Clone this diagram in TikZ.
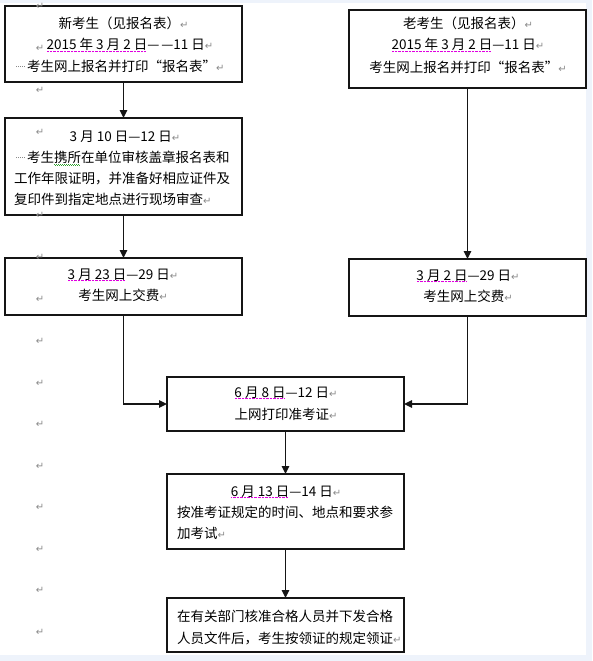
\documentclass[tikz,border=0pt]{standalone}
\usepackage{fontspec}
\usetikzlibrary{arrows.meta}
\newfontfamily\cjk{Noto Sans CJK SC}
\newfontfamily\djv{DejaVu Sans}
\definecolor{bgblue}{HTML}{EEF3FB}
\definecolor{retgray}{HTML}{8A8A8A}
\definecolor{ulmag}{HTML}{E000E0}
\definecolor{ulgreen}{HTML}{30A030}
\definecolor{linecol}{HTML}{151515}
\newsavebox\ulbox
\newcommand\retm{{\djv\fontsize{10}{10}\selectfont\textcolor{retgray}{↵}}}
\newcommand\dul[1]{\sbox\ulbox{#1}\rlap{\raisebox{-2pt}{\textcolor{ulmag}{\leaders\hbox to 1.4pt{\hss\rule{0.7pt}{0.7pt}\hss}\hskip\wd\ulbox}}}\usebox\ulbox}
\newcommand\wul[1]{\sbox\ulbox{#1}\rlap{\raisebox{-2.5pt}{\textcolor{ulgreen}{\leaders\hbox to 2pt{\rule[0pt]{1pt}{0.6pt}\rule[-0.7pt]{1pt}{0.6pt}}\hskip\wd\ulbox}}}\usebox\ulbox}
\newcommand\spm{\textcolor{retgray}{\raisebox{4pt}{\leaders\hbox to 2pt{\hss\rule{0.7pt}{0.7pt}\hss}\hskip 10pt}}\hskip 2pt}
\begin{document}
\begin{tikzpicture}[x=1pt,y=-1pt,
  box/.style={draw=linecol, line width=1.6pt, fill=white, rectangle, inner sep=0pt, outer sep=0pt, anchor=north west, minimum width=237pt},
  txt/.style={font=\cjk\fontsize{13.5}{16}\selectfont, inner sep=0pt, anchor=base, text=black},
  txtl/.style={txt, anchor=base west},
  retn/.style={inner sep=0pt, anchor=center},
  arr/.style={line width=1.3pt, draw=linecol, -{Triangle[length=8pt,width=7.5pt]}}]
\useasboundingbox (0,0) rectangle (592,661);
\fill[bgblue] (0,0) rectangle (592,661);
\fill[white] (0,3) rectangle (586,655);
% boxes
\node[box, minimum height=76pt] (b1) at (5,6) {};
\node[box, minimum height=97pt] (b2) at (5,118) {};
\node[box, minimum height=78pt] (b3) at (349,10) {};
\node[box, minimum height=57pt] (b4) at (5,258) {};
\node[box, minimum height=57pt] (b5) at (349,259) {};
\node[box, minimum height=54pt] (b6) at (167,377) {};
\node[box, minimum height=75pt] (b7) at (167,474) {};
\node[box, minimum height=54pt] (b8) at (167,598) {};
% connectors
\draw[arr] (b1.south) -- (b2.north);
\draw[arr] (b2.south) -- (b4.north);
\draw[arr] (b3.south) -- (b5.north);
\draw[arr] (b4.south) |- (b6.west);
\draw[arr] (b5.south) |- (b6.east);
\draw[arr] (b6.south) -- (b7.north);
\draw[arr] (b7.south) -- (b8.north);
% texts
\node[txt] (t1a) at (123.5,29) {新考生（见报名表）\retm};
\node[txt] (t1b) at (130,50) {\dul{2015 年 3 月 2 日}—\kern2pt—11 日\retm};
\node[txtl] (t1c) at (15,71) {\spm 考生网上报名并打印“报名表”\retm};
\node[txt] (t2a) at (125,141) {3 月 10 日—12 日\retm};
\node[txtl] (t2b) at (15,162) {\spm 考生\wul{携所}在单位审核盖章报名表和};
\node[txtl] (t2c) at (14,183) {工作年限证明，并准备好相应证件及};
\node[txtl] (t2d) at (14,204) {复印件到指定地点进行现场审查\retm};
\node[txt] (t3a) at (468,29) {老考生（见报名表）\retm};
\node[txt] (t3b) at (468,50) {\dul{2015 年 3 月 2 日}—11 日\retm};
\node[txt] (t3c) at (468,72) {考生网上报名并打印“报名表”\retm};
\node[txt] (t4a) at (123,279) {\dul{3 月 23 日}—29 日\retm};
\node[txt] (t4b) at (123,300) {考生网上交费\retm};
\node[txt] (t5a) at (468,280) {\dul{3 月 2 日}—29 日\retm};
\node[txt] (t5b) at (468,301) {考生网上交费\retm};
\node[txt] (t6a) at (286,397) {\dul{6 月 8 日}—12 日\retm};
\node[txt] (t6b) at (286,419) {上网打印准考证\retm};
\node[txt] (t7a) at (286,496) {\dul{6 月 13 日}—14 日\retm};
\node[txtl] (t7b) at (177,517) {按准考证规定的时间、地点和要求参};
\node[txtl] (t7c) at (177,538) {加考试\retm};
\node[txtl] (t8a) at (177,621) {在有关部门核准合格人员并下发合格};
\node[txtl] (t8b) at (177,643) {人员文件后，考生按领证的规定领证\retm};
% paragraph marks in the margin
\foreach \yy [count=\i] in {6,48,90,132,215,257,299,341,383,424,466,507,549,590,632}
  \node[retn] (m\i) at (40,\yy) {\retm};
\end{tikzpicture}
\end{document}
